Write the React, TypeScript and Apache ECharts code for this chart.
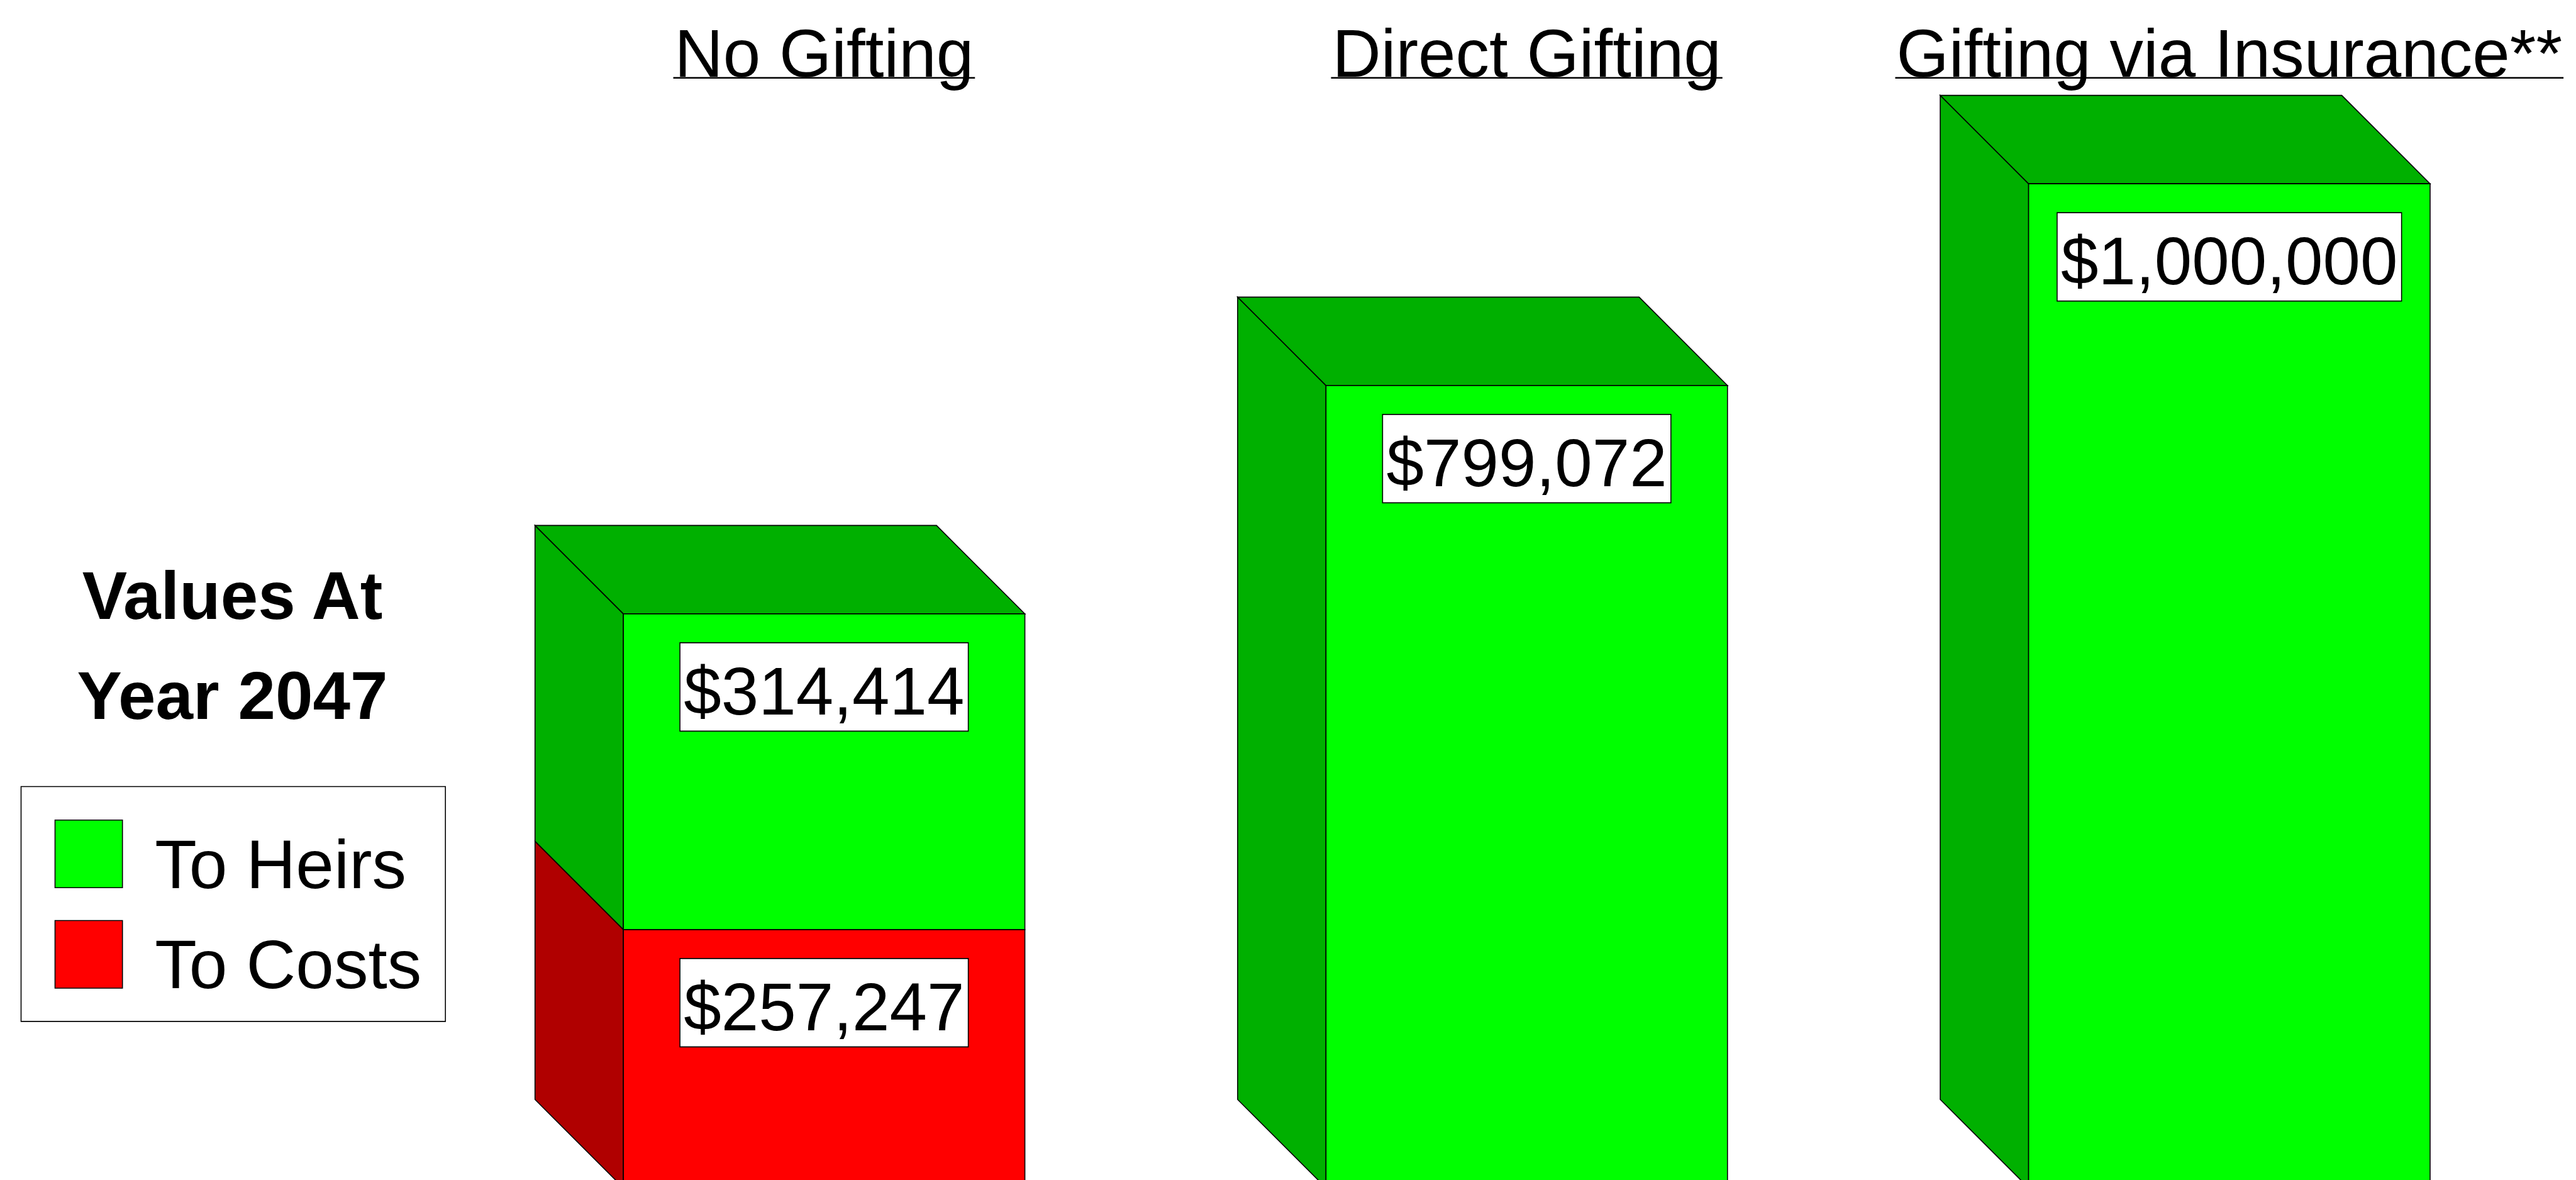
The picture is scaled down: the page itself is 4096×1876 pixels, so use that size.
import React, { useEffect, useRef } from 'react';
import * as echarts from 'echarts';

// ---- data ----
const categories = ['No Gifting', 'Direct Gifting', 'Gifting via Insurance**'];
const toCosts = [257247, 0, 0];
const toHeirs = [314414, 799072, 1000000];
const seriesNames = ['To Heirs', 'To Costs'];
const sideTitleLines = ['Values At', 'Year 2047'];

// ---- style ----
const FONT = '"Liberation Sans", Arial, Helvetica, sans-serif';
const DEPTH = 140.5;
const STROKE = 1.6;
const TITLE_SIZE = 107;
const LABEL_SIZE = 107;
const LEGEND_SIZE = 109;
const CENTRAL = 0.3465; // central baseline offset (fraction of font size) above alphabetic baseline

const HEIRS_FRONT = '#00FF00';
const HEIRS_SIDE = '#00B000';
const COSTS_FRONT = '#FF0000';
const COSTS_SIDE = '#B00000';

function fmt(v: number) {
  return '$' + v.toLocaleString('en-US');
}

let measureCtx: CanvasRenderingContext2D | null = null;
function textWidth(t: string, size: number) {
  if (!measureCtx) measureCtx = document.createElement('canvas').getContext('2d');
  if (!measureCtx) return t.length * size * 0.5;
  measureCtx.font = `${size}px "Liberation Sans", Arial, sans-serif`;
  return measureCtx.measureText(t).width;
}

function boxRender(front: string, side: string, withTop: boolean, withTitleLine: boolean) {
  return (_params: any, api: any) => {
    const idx = api.value(0);
    const base = api.value(1);
    const val = api.value(2);
    const children: any[] = [];
    const band = api.size([1, 0])[0];
    const w = (band * 4) / 7;
    const pb = api.coord([idx, base]);
    const pt = api.coord([idx, base + val]);
    const cx = pb[0];
    const x0 = cx - w / 2;
    const x1 = cx + w / 2;
    const yb = pb[1];
    const yt = pt[1];
    const stroke = { stroke: '#000', lineWidth: STROKE, lineJoin: 'miter' };
    if (val > 0) {
      children.push({
        type: 'polygon',
        shape: { points: [[x0, yt], [x0 - DEPTH, yt - DEPTH], [x0 - DEPTH, yb - DEPTH], [x0, yb]] },
        style: { fill: side, ...stroke },
      });
      if (withTop) {
        children.push({
          type: 'polygon',
          shape: { points: [[x0, yt], [x0 - DEPTH, yt - DEPTH], [x1 - DEPTH, yt - DEPTH], [x1, yt]] },
          style: { fill: side, ...stroke },
        });
      }
      children.push({
        type: 'rect',
        shape: { x: x0, y: yt, width: w, height: yb - yt },
        style: { fill: front, ...stroke },
      });
      children.push({
        type: 'text',
        x: cx,
        y: yt + 46.8,
        style: {
          text: fmt(val),
          fontSize: LABEL_SIZE,
          fontFamily: FONT,
          fill: '#000',
          align: 'center',
          verticalAlign: 'top',
          lineHeight: LABEL_SIZE,
          backgroundColor: '#fff',
          borderColor: '#000',
          borderWidth: STROKE,
          padding: [22.7, 5.3, 9.2, 5.3],
        },
      });
    }
    if (withTitleLine) {
      const tw = textWidth(categories[idx], TITLE_SIZE) + 4;
      children.push({
        type: 'line',
        shape: { x1: cx - tw / 2, y1: 123.7, x2: cx + tw / 2, y2: 123.7 },
        style: { stroke: '#000', lineWidth: 2.5 },
      });
    }
    return { type: 'group', children };
  };
}

export default function App() {
  const ref = useRef<HTMLDivElement>(null);
  useEffect(() => {
    if (!ref.current) return;
    const chart = echarts.init(ref.current, null, { renderer: 'svg' });
    const costsData = categories.map((_c, i) => [i, 0, toCosts[i]]);
    const heirsData = categories.map((_c, i) => [i, toCosts[i], toHeirs[i]]);
    const sideY = [984, 1143.5];
    chart.setOption({
      animation: false,
      backgroundColor: '#fff',
      grid: {
        left: 751.8,
        top: 292.1,
        width: 3351.6,
        height: 1596.4,
        containLabel: false,
        outerBoundsMode: 'none',
      },
      xAxis: {
        type: 'category',
        data: categories,
        position: 'top',
        axisLine: { show: false },
        axisTick: { show: false },
        splitLine: { show: false },
        axisLabel: {
          interval: 0,
          margin: 292.1 - (121.9 - CENTRAL * TITLE_SIZE),
          verticalAlign: 'middle',
          fontSize: TITLE_SIZE,
          fontFamily: FONT,
          color: '#000',
        },
      },
      yAxis: { type: 'value', min: 0, max: 1000000, show: false },
      legend: {
        data: seriesNames,
        orient: 'vertical',
        left: 33.5,
        top: 1250.5,
        padding: [52.5, 38, 36.1, 53.2],
        itemWidth: 107.2,
        itemHeight: 107.5,
        itemGap: 34.7,
        icon: 'rect',
        backgroundColor: '#fff',
        borderColor: '#000',
        borderWidth: 1.6,
        borderRadius: 0,
        selectedMode: false,
        itemStyle: { borderColor: '#000', borderWidth: 1.6 },
        // a short empty first line pushes the name 16px below the swatch centre
        formatter: (name: string) => '{gap| }\n{n|' + name + '}',
        textStyle: {
          fontSize: LEGEND_SIZE,
          fontFamily: FONT,
          color: '#000',
          padding: [0, 0, 0, 46.5],
          rich: {
            gap: { fontSize: 10, lineHeight: 32, fontFamily: FONT },
            n: { fontSize: LEGEND_SIZE, lineHeight: 40, fontFamily: FONT, color: '#000' },
          },
        },
      },
      graphic: sideTitleLines.map((t, k) => ({
        type: 'text',
        x: 369.5,
        y: sideY[k] - CENTRAL * 107,
        style: {
          text: t,
          fontSize: 107,
          fontWeight: 'bold',
          fontFamily: FONT,
          fill: '#000',
          align: 'center',
          verticalAlign: 'middle',
        },
      })),
      series: [
        {
          name: 'To Costs',
          type: 'custom',
          renderItem: boxRender(COSTS_FRONT, COSTS_SIDE, false, false),
          data: costsData,
          encode: { x: 0, y: 2 },
          itemStyle: { color: COSTS_FRONT },
        },
        {
          name: 'To Heirs',
          type: 'custom',
          renderItem: boxRender(HEIRS_FRONT, HEIRS_SIDE, true, true),
          data: heirsData,
          encode: { x: 0, y: 2 },
          itemStyle: { color: HEIRS_FRONT },
        },
      ],
    });
    return () => chart.dispose();
  }, []);
  return (
    <div
      ref={ref}
      style={{ position: 'fixed', left: 0, top: 0, width: 4096, height: 1876, background: '#fff' }}
    />
  );
}
